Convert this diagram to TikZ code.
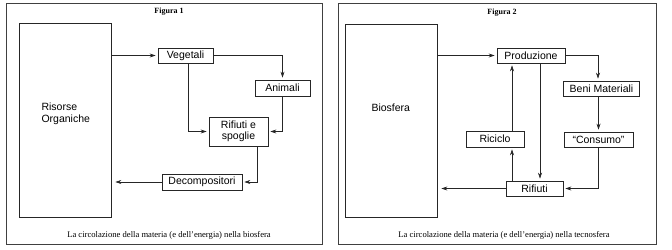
\documentclass[tikz,border=0pt]{standalone}
\usepackage{fontspec}
\setmainfont{Liberation Serif}
\newfontfamily\boxfont{Liberation Sans}
\usetikzlibrary{arrows.meta,positioning,calc}

\begin{document}
\begin{tikzpicture}[x=1pt,y=1pt,>={Stealth[length=6pt,width=4pt]},
 frame/.style={draw=black!75,line width=0.8pt},
 cell/.style={draw=black!85,line width=0.6pt,inner sep=0pt,align=center,
  font=\boxfont\fontsize{10.5}{11.5}\selectfont},
 big/.style={draw=black!85,line width=0.6pt,inner sep=0pt},
 txt/.style={font=\boxfont\fontsize{10.5}{12}\selectfont,align=left,anchor=west},
 arr/.style={->,line width=0.6pt,black!85,shorten >=2pt},
 tit/.style={font=\bfseries\fontsize{8}{9}\selectfont},
 caption/.style={font=\fontsize{8.6}{9}\selectfont}]
\useasboundingbox (0,0) rectangle (672,-249);
% cornici
\draw[frame] (6,-3) rectangle (322,-244);
\draw[frame] (338,-3) rectangle (656,-244);
\node[tit] (t1) at (169,-12) {Figura 1};
\node[tit] (t2) at (502,-13) {Figura 2};
\node[caption] (c1) at (169,-235) {La circolazione della materia (e dell’energia) nella biosfera};
\node[caption] (c2) at (504,-235) {La circolazione della materia (e dell’energia) nella tecnosfera};
% biosfera
\node[big,minimum width=92,minimum height=194] (ris) at (65,-120) {};
\node[txt] (rist) at (38,-114) {Risorse\\Organiche};
\node[cell,minimum width=55,minimum height=15] (veg) at (185.5,-55.5) {Vegetali};
\node[cell,minimum width=55,minimum height=16] (ani) at (282.5,-88) {Animali};
\node[cell,minimum width=59,minimum height=29] (rif) at (238.5,-131.5) {Rifiuti e\\spoglie};
\node[cell,minimum width=80,minimum height=16] (dec) at (202,-182) {Decompositori};
\draw[arr] (veg.west -| ris.east) -- (veg.west);
\draw[arr] (veg.east) -| (ani.north);
\draw[arr] ([xshift=2.5pt]veg.south) |- (rif.west);
\draw[arr] (ani.south) |- (rif.east);
\draw[arr] ([xshift=18.5pt]rif.south) |- (dec.east);
\draw[arr,shorten >=4pt] (dec.west) -- (dec.west -| ris.east);
% tecnosfera
\node[big,minimum width=92,minimum height=193] (bio) at (391,-120.5) {};
\node[txt] (biot) at (368,-108) {Biosfera};
\node[cell,minimum width=68,minimum height=15] (pro) at (531,-55.5) {Produzione};
\node[cell,minimum width=76,minimum height=15] (ben) at (601.5,-88.5) {Beni Materiali};
\node[cell,minimum width=69,minimum height=15] (con) at (598.5,-139.5) {“Consumo”};
\node[cell,minimum width=57,minimum height=15] (rif2) at (534.5,-188.5) {Rifiuti};
\node[cell,minimum width=58,minimum height=16] (ric) at (495,-139) {Riciclo};
\draw[arr] (pro.west -| bio.east) -- (pro.west);
\draw[arr] (pro.east) -| ([xshift=-3.5pt]ben.north);
\draw[arr] (ben.south -| con.north) -- (con.north);
\draw[arr] (con.south) |- (rif2.east);
\draw[arr] ([xshift=9pt]pro.south) -- ([xshift=5.5pt]rif2.north);
\draw[arr] ([xshift=-22.5pt]rif2.north) -- ([xshift=-22.5pt]rif2.north |- ric.south);
\draw[arr] ([xshift=17pt]ric.north) -- ([xshift=17pt]ric.north |- pro.south);
\draw[arr,shorten >=4pt] (rif2.west) -- (rif2.west -| bio.east);
\end{tikzpicture}
\end{document}
